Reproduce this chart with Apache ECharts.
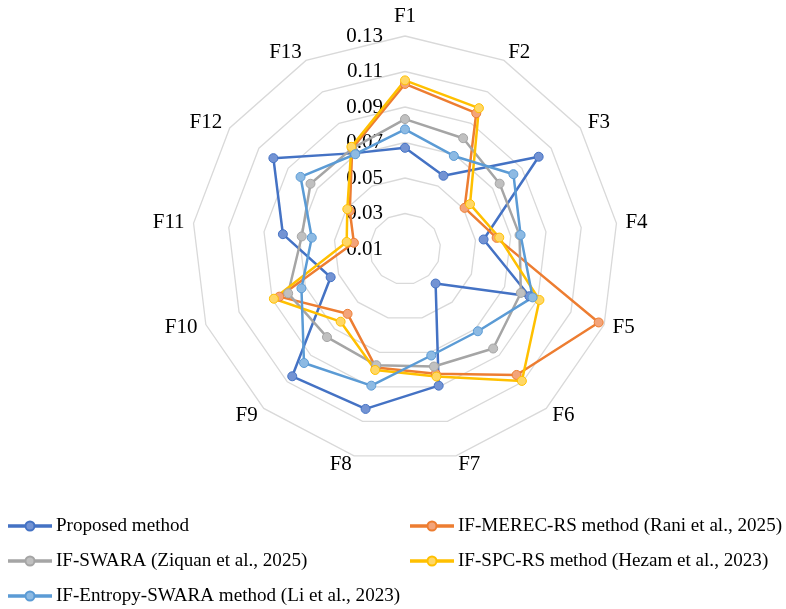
<!DOCTYPE html>
<html>
<head>
<meta charset="utf-8">
<script src="https://cdn.jsdelivr.net/npm/echarts@6/dist/echarts.min.js"></script>
<style>
  html, body { margin: 0; padding: 0; background: #fff; }
  #chart { width: 786px; height: 609px; }
</style>
</head>
<body>
<div id="chart"></div>
<script>
// criteria, clockwise from the top
const criteria = ['F1', 'F2', 'F3', 'F4', 'F5', 'F6', 'F7', 'F8', 'F9', 'F10', 'F11', 'F12', 'F13'];

// weights
const proposed = [0.067, 0.0566, 0.1015, 0.0546, 0.085, 0.036, 0.0893, 0.1028, 0.1058, 0.0548, 0.0793, 0.1001, 0.071];
const merecRs = [0.103, 0.0964, 0.0508, 0.062, 0.1267, 0.1048, 0.0824, 0.0787, 0.0588, 0.0857, 0.039, 0.0478, 0.074];
const swara = [0.0832, 0.0805, 0.0748, 0.075, 0.0798, 0.0849, 0.0782, 0.0774, 0.0763, 0.0804, 0.0686, 0.0747, 0.074];
const spcRs = [0.105, 0.0996, 0.0545, 0.0635, 0.091, 0.1093, 0.084, 0.0802, 0.0647, 0.089, 0.0431, 0.0495, 0.075];
const entropySwara = [0.0774, 0.0692, 0.0842, 0.0756, 0.0869, 0.0719, 0.0718, 0.0893, 0.0958, 0.0724, 0.0629, 0.0815, 0.0703];

const axisMin = 0.01;
const axisMax = 0.13;
const splits = 6;

const methods = [
  { name: 'Proposed method', values: proposed, color: '#4472C4', fill: '#7393D3' },
  { name: 'IF-MEREC-RS method (Rani et al., 2025)', values: merecRs, color: '#ED7D31', fill: '#F3A47A' },
  { name: 'IF-SWARA (Ziquan et al., 2025)', values: swara, color: '#A5A5A5', fill: '#C0C0C0' },
  { name: 'IF-SPC-RS method (Hezam et al., 2023)', values: spcRs, color: '#FFC000', fill: '#FFD766' },
  { name: 'IF-Entropy-SWARA method (Li et al., 2023)', values: entropySwara, color: '#5B9BD5', fill: '#8DBAE3' },
];

// echarts radar runs counter-clockwise, so walk the criteria backwards after F1
const order = [0].concat(criteria.slice(1).map((c, i) => criteria.length - 1 - i));

const font = '"Liberation Serif", "Times New Roman", serif';

// line + marker legend icon
const lineMarker = 'path://M0 3.75L16.5 3.75L16.5 5.25L0 5.25Z' +
  'M25.5 3.75L42 3.75L42 5.25L25.5 5.25Z' +
  'M25.5 4.5A4.5 4.5 0 1 1 16.5 4.5A4.5 4.5 0 1 1 25.5 4.5Z';

let legendBase = {
  orient: 'vertical',
  top: 511,
  height: 120,
  itemWidth: 42,
  itemHeight: 9,
  itemGap: 15,
  icon: lineMarker,
  textStyle: { fontFamily: font, fontSize: 19.1, color: '#000', lineHeight: 20 },
};

let chart = echarts.init(document.getElementById('chart'));
chart.setOption({
  animation: false,
  textStyle: { fontFamily: font },
  legend: [
    Object.assign({}, legendBase, {
      left: 3,
      data: [methods[0].name, methods[2].name, methods[4].name],
    }),
    Object.assign({}, legendBase, {
      left: 405,
      data: [methods[1].name, methods[3].name],
    }),
  ],
  radar: {
    center: [405, 249],
    radius: 213,
    startAngle: 90,
    shape: 'polygon',
    splitNumber: splits,
    axisName: {
      color: '#000',
      fontFamily: font,
      fontSize: 21,
    },
    nameGap: 9,
    splitLine: { lineStyle: { color: '#D9D9D9', width: 1.3 } },
    splitArea: { show: false },
    axisLine: { show: false },
    axisTick: { show: false },
    axisLabel: { show: false },
    indicator: order.map((k) => {
      let ind = { name: criteria[k], min: axisMin, max: axisMax };
      // only F1 carries the value labels
      if (k === 0) {
        ind.axisLabel = {
          show: true,
          margin: 22,
          color: '#000',
          fontFamily: font,
          fontSize: 21,
          formatter: (v) => Number(v).toFixed(2),
        };
      }
      return ind;
    }),
  },
  series: [
    {
      type: 'radar',
      symbol: 'circle',
      symbolSize: 9,
      data: methods.map((m) => ({
        name: m.name,
        value: order.map((k) => m.values[k]),
        lineStyle: { color: m.color, width: 2.5 },
        itemStyle: { color: m.fill, borderColor: m.color, borderWidth: 1 },
      })),
    },
  ],
});
</script>
</body>
</html>
